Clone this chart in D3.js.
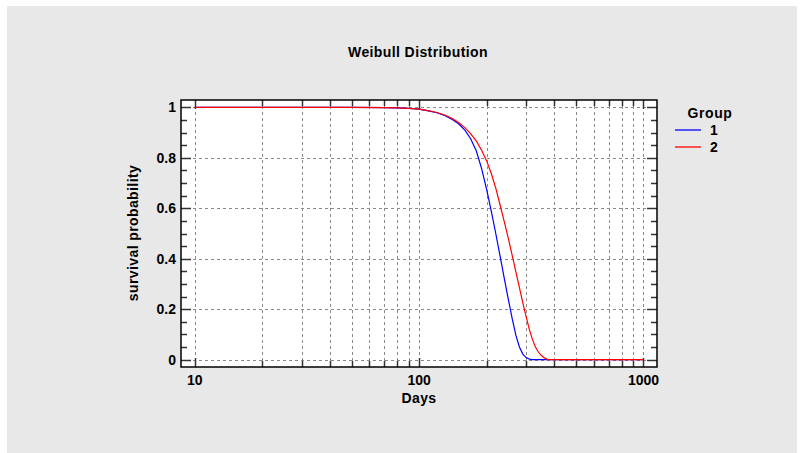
<!DOCTYPE html>
<html><head><meta charset="utf-8">
<script src="https://cdn.jsdelivr.net/npm/d3@7"></script>
<style>body{margin:0;background:#fff}svg{display:block}text{font-family:"Liberation Sans",Arial,sans-serif}</style>
</head><body><svg id="c" width="801" height="453"></svg>
<script>
const days = [10,50,70,80,90,100,110,120,130,140,150,160,170,180,190,200,210,220,230,240,250,260,270,280,290,300,310,320,330,340,350,360,370,380,400,1000];
const group1 = [1,1,0.999,0.998,0.996,0.993,0.986,0.979,0.968,0.953,0.935,0.91,0.875,0.827,0.757,0.675,0.587,0.497,0.407,0.32,0.238,0.162,0.097,0.05,0.022,0.008,0.002,0,0,0,0,0,0,0,0,0];
const group2 = [1,1,0.999,0.998,0.996,0.993,0.987,0.98,0.97,0.957,0.94,0.92,0.895,0.866,0.83,0.788,0.737,0.678,0.61,0.545,0.48,0.413,0.348,0.285,0.225,0.17,0.12,0.08,0.05,0.03,0.017,0.008,0.002,0,0,0];
const xMajor = [10,100,1000];
const xMinor = [20,30,40,50,60,70,80,90,200,300,400,500,600,700,800,900];
const yMajor = [0,0.2,0.4,0.6,0.8,1];
const yTickLabels = ["0","0.2","0.4","0.6","0.8","1"];
const yMinor = [0.05,0.1,0.15,0.25,0.3,0.35,0.45,0.5,0.55,0.65,0.7,0.75,0.85,0.9,0.95];
const groups = ["1","2"];
const colors = ["#0000ff","#ff0000"];

const svg = d3.select("#c");
svg.append("rect").attr("x",7).attr("y",6).attr("width",790).attr("height",447).attr("fill","#e8e8e8");

const L=181,R=657,T=100,B=367;
const x = d3.scaleLog().domain([8.69,1149]).range([L,R]);
const y = d3.scaleLinear().domain([-0.0294,1.0294]).range([B,T]);

svg.append("rect").attr("x",L).attr("y",T).attr("width",R-L).attr("height",B-T).attr("fill","#fff");

// grid
const g = svg.append("g").attr("stroke","#8a8a8a").attr("stroke-width",1).attr("stroke-dasharray","3,3");
xMajor.concat(xMinor).forEach(v=>{
  g.append("line").attr("x1",Math.round(x(v))+0.5).attr("x2",Math.round(x(v))+0.5).attr("y1",T).attr("y2",B);
});
yMajor.forEach(v=>{
  g.append("line").attr("y1",Math.round(y(v))+0.5).attr("y2",Math.round(y(v))+0.5).attr("x1",L).attr("x2",R);
});

// ticks inside
const tk = svg.append("g").attr("stroke","#333").attr("stroke-width",1.5);
yMajor.forEach(v=>{const yy=Math.round(y(v))+0.5;
  tk.append("line").attr("x1",L).attr("x2",L+10).attr("y1",yy).attr("y2",yy);
  tk.append("line").attr("x1",R).attr("x2",R-10).attr("y1",yy).attr("y2",yy);});
yMinor.forEach(v=>{const yy=Math.round(y(v))+0.5;
  tk.append("line").attr("x1",L).attr("x2",L+6).attr("y1",yy).attr("y2",yy);
  tk.append("line").attr("x1",R).attr("x2",R-6).attr("y1",yy).attr("y2",yy);});
xMajor.forEach(v=>{const xx=Math.round(x(v))+0.5;
  tk.append("line").attr("x1",xx).attr("x2",xx).attr("y1",B).attr("y2",B-9);
  tk.append("line").attr("x1",xx).attr("x2",xx).attr("y1",T).attr("y2",T+9);});
xMinor.forEach(v=>{const xx=Math.round(x(v))+0.5;
  tk.append("line").attr("x1",xx).attr("x2",xx).attr("y1",B).attr("y2",B-6);
  tk.append("line").attr("x1",xx).attr("x2",xx).attr("y1",T).attr("y2",T+6);});

// curves
const line = d3.line().x((d)=>x(d[0])).y(d=>y(d[1]));
[group1,group2].forEach((s,i)=>{
  svg.append("path").datum(days.map((d,j)=>[d,s[j]])).attr("d",line)
    .attr("fill","none").attr("stroke",colors[i]).attr("stroke-width",1.2);
});

// border
svg.append("rect").attr("x",L).attr("y",T).attr("width",R-L).attr("height",B-T)
  .attr("fill","none").attr("stroke","#000").attr("stroke-width",1.5);

// labels
const lab = svg.append("g").attr("font-weight","bold").attr("fill","#000");
yMajor.forEach((v,i)=>{
  lab.append("text").attr("x",176).attr("y",y(v)+5).attr("text-anchor","end").attr("font-size",14).text(yTickLabels[i]);
});
xMajor.forEach(v=>{
  lab.append("text").attr("x",x(v)).attr("y",385).attr("text-anchor","middle").attr("font-size",14).text(String(v));
});
lab.append("text").attr("x",419).attr("y",403).attr("text-anchor","middle").attr("font-size",14).attr("letter-spacing",0.4).text("Days");
lab.append("text").attr("transform","translate(138,233) rotate(-90)").attr("text-anchor","middle").attr("font-size",14).attr("letter-spacing",0.4).text("survival probability");
lab.append("text").attr("x",418).attr("y",57).attr("text-anchor","middle").attr("font-size",14).attr("letter-spacing",0.4).text("Weibull Distribution");

// legend
lab.append("text").attr("x",710).attr("y",118).attr("text-anchor","middle").attr("font-size",14).attr("letter-spacing",0.6).text("Group");
groups.forEach((gname,i)=>{
  const yy = 130 + i*17;
  svg.append("line").attr("x1",675).attr("x2",701).attr("y1",yy).attr("y2",yy).attr("stroke",colors[i]).attr("stroke-width",1.3);
  lab.append("text").attr("x",710).attr("y",yy+5).attr("font-size",14).text(gname);
});
</script></body></html>
